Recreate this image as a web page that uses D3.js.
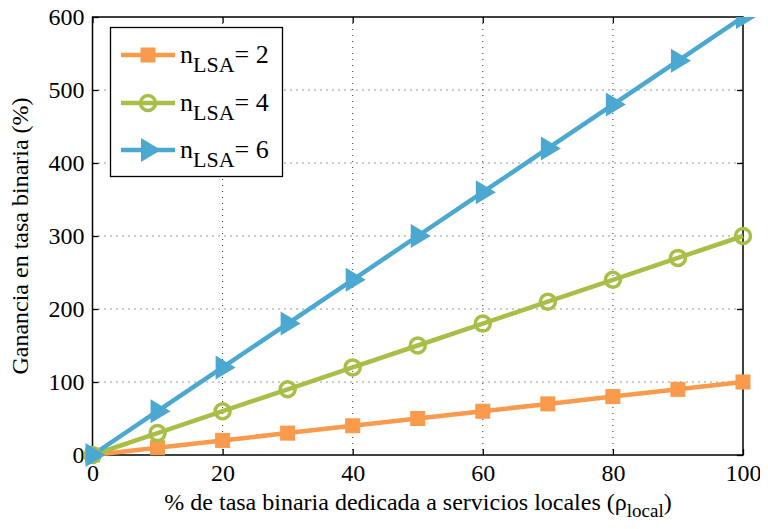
<!DOCTYPE html>
<html><head><meta charset="utf-8">
<script src="https://cdn.jsdelivr.net/npm/d3@7"></script>
</head><body><svg id="c" width="760" height="521" viewBox="8 8 760 521" overflow="visible"></svg>
<script>
const xValues = [0,10,20,30,40,50,60,70,80,90,100];
const n2 = [0,10,20,30,40,50,60,70,80,90,100];
const n4 = [0,30,60,90,120,150,180,210,240,270,300];
const n6 = [0,60,120,180,240,300,360,420,480,540,600];
const xTicks = [0,20,40,60,80,100];
const yTicks = [0,100,200,300,400,500,600];
const seriesNames = ["2","4","6"];
const colors = ["#F99A4D","#A7BF46","#4BA9D1"];
const shapes = ["square","circle","triangle"];
const series = [n2,n4,n6];
const FONT = "Liberation Serif";

const svg = d3.select("#c");
const L=92.5,R=743,T=17,B=455;
const x = d3.scaleLinear().domain([0,100]).range([L,R]);
const y = d3.scaleLinear().domain([0,600]).range([B,T]);

const g = svg.append("g");
g.selectAll(".gx").data(xTicks.slice(1,-1)).join("line")
 .attr("x1",d=>x(d)).attr("x2",d=>x(d)).attr("y1",T).attr("y2",B)
 .attr("stroke","#333").attr("stroke-width",1).attr("stroke-dasharray","1,5");
g.selectAll(".gy").data(yTicks.slice(1,-1)).join("line")
 .attr("y1",d=>y(d)).attr("y2",d=>y(d)).attr("x1",L).attr("x2",R)
 .attr("stroke","#333").attr("stroke-width",1).attr("stroke-dasharray","1,5");

const ax = d3.axisBottom(x).tickValues(xTicks).tickSize(-6).tickPadding(9).tickFormat(d3.format("d"));
const ay = d3.axisLeft(y).tickValues(yTicks).tickSize(-6).tickPadding(8).tickFormat(d3.format("d"));
const axT = d3.axisTop(x).tickValues(xTicks).tickSize(-6).tickFormat("");
const ayR = d3.axisRight(y).tickValues(yTicks).tickSize(-6).tickFormat("");
function style(s){s.attr("font-family",null).attr("font-size",null);s.select(".domain").remove();s.selectAll("line").attr("stroke","#000").attr("stroke-width",1.3);
  s.selectAll("text").attr("fill","#000").style("font-family",FONT).style("font-size","24px");}
svg.append("g").attr("transform",`translate(0,${B})`).call(ax).call(style);
svg.append("g").attr("transform",`translate(${L},0)`).call(ay).call(style);
svg.append("g").attr("transform",`translate(0,${T})`).call(axT).call(style);
svg.append("g").attr("transform",`translate(${R},0)`).call(ayR).call(style);
svg.append("rect").attr("x",L).attr("y",T).attr("width",R-L).attr("height",B-T)
 .attr("fill","none").attr("stroke","#000").attr("stroke-width",1.5);

svg.append("clipPath").attr("id","clip").append("rect")
 .attr("x",L-30).attr("y",T).attr("width",R-L+60).attr("height",B-T+30);

function marker(sel,shape,color){
  if(shape==="square") sel.append("rect").attr("x",-7).attr("y",-7).attr("width",14).attr("height",14).attr("fill",color).attr("stroke",color).attr("stroke-width",1);
  else if(shape==="circle") sel.append("circle").attr("r",7.5).attr("fill","none").attr("stroke",color).attr("stroke-width",3.5);
  else sel.append("path").attr("d","M-7,-12 L13,0 L-7,12 Z").attr("fill",color);
}

const line = d3.line().x((d,i)=>x(xValues[i])).y(d=>y(d));
const pg = svg.append("g").attr("clip-path","url(#clip)");
series.forEach((s,k)=>{
  pg.append("path").datum(s).attr("d",line).attr("fill","none").attr("stroke",colors[k]).attr("stroke-width",4.5);
});
series.forEach((s,k)=>{
  s.forEach((v,i)=>{
    const m = pg.append("g").attr("transform",`translate(${x(xValues[i])},${y(v)})`);
    marker(m,shapes[k],colors[k]);
  });
});

const lg = svg.append("g");
lg.append("rect").attr("x",110.5).attr("y",27.5).attr("width",172).attr("height",149)
 .attr("fill","#fff").attr("stroke","#000").attr("stroke-width",1.3);
const ly=[55,103,150];
seriesNames.forEach((n,k)=>{
  lg.append("line").attr("x1",121).attr("x2",175).attr("y1",ly[k]).attr("y2",ly[k]).attr("stroke",colors[k]).attr("stroke-width",4.5);
  const m = lg.append("g").attr("transform",`translate(148,${ly[k]})`);
  marker(m,shapes[k],colors[k]);
  const t = lg.append("text").attr("x",180).attr("y",ly[k]+8).style("font-family",FONT).style("font-size","26px");
  t.append("tspan").text("n");
  t.append("tspan").attr("dy",9).style("font-size","22px").text("LSA");
  t.append("tspan").attr("dy",-9).text("= "+n);
});

svg.append("text").attr("transform","translate(28,236) rotate(-90)").attr("text-anchor","middle")
 .style("font-family",FONT).style("font-size","24px").text("Ganancia en tasa binaria (%)");
const xl = svg.append("text").attr("x",418).attr("y",510).attr("text-anchor","middle").style("font-family",FONT).style("font-size","24px");
xl.append("tspan").text("% de tasa binaria dedicada a servicios locales (ρ");
xl.append("tspan").attr("dy",7).style("font-size","19px").text("local");
xl.append("tspan").attr("dy",-7).text(")");
</script></body></html>
